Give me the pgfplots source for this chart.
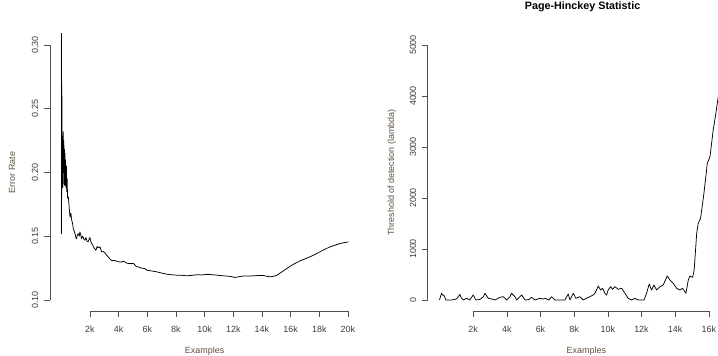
\documentclass[border=0pt]{standalone}
\usepackage{fontspec}
\setmainfont{Liberation Sans}
\usepackage{pgfplots}
\pgfplotsset{compat=1.18}
\definecolor{axgray}{RGB}{80,80,80}
\definecolor{labcol}{RGB}{95,80,65}
\definecolor{tickcol}{RGB}{60,60,60}
\pgfplotsset{rstyle/.style={
  scale only axis, height=277bp,
  axis line style={draw=none},
  tick align=outside, major tick length=6bp, tick pos=left,
  minor tick num=0,
  tick style={axgray, line width=0.6bp},
  tick label style={font=\fontsize{9}{10}\selectfont, text=tickcol},
  /pgf/number format/assume math mode=true,
  yticklabel style={rotate=90, anchor=base},
  xticklabel style={anchor=base},
  xticklabel shift=15bp,
  yticklabel shift=5.6bp,
  label style={font=\fontsize{9}{10}\selectfont, text=labcol},
  clip mode=individual,
  scaled ticks=false,
}}
\begin{document}
\begin{tikzpicture}
\useasboundingbox (0,0) rectangle (718bp,356bp);
% ---------------- left panel ----------------
\begin{axis}[rstyle,
  at={(49.8bp,45bp)}, anchor=south west,
  width=309.6bp,
  xmin=-800, xmax=20800, ymin=0.0914, ymax=0.3086,
  xtick={2000,4000,6000,8000,10000,12000,14000,16000,18000,20000},
  xticklabels={2k,4k,6k,8k,10k,12k,14k,16k,18k,20k},
  ytick={0.10,0.15,0.20,0.25,0.30},
  yticklabels={0.10,0.15,0.20,0.25,0.30},
  xlabel={Examples},
  xlabel style={at={(axis description cs:0.5,-0.1444)}, anchor=center},
  ylabel={Error Rate},
  ylabel style={at={(axis description cs:-0.1221,0.5)}, anchor=center},
]
\addplot[black, line width=0.75bp, line join=round] coordinates {
(0,0.42) (20,0.152) (40,0.27) (60,0.19) (80,0.222) (100,0.188) (120,0.226) (140,0.232)
(160,0.2) (180,0.225) (200,0.19) (220,0.218) (240,0.19) (260,0.215) (280,0.19) (300,0.21)
(330,0.188) (360,0.205) (380,0.185) (410,0.195) (440,0.18) (490,0.181) (550,0.173)
(610,0.165) (670,0.168) (730,0.1625) (790,0.16) (840,0.156) (900,0.154) (960,0.152)
(1020,0.149) (1070,0.148) (1120,0.151) (1190,0.152) (1250,0.150) (1300,0.1534)
(1360,0.151) (1420,0.148) (1480,0.150) (1540,0.149) (1600,0.147) (1650,0.147)
(1720,0.149) (1800,0.146) (1880,0.1456) (1950,0.148) (2000,0.149) (2060,0.146)
(2120,0.1443) (2200,0.143) (2280,0.141) (2350,0.140) (2420,0.139) (2500,0.142)
(2580,0.141) (2700,0.1417) (2820,0.1378) (2940,0.138) (3050,0.137) (3170,0.135)
(3280,0.1339) (3400,0.132) (3520,0.131) (3700,0.131) (3870,0.1305) (4000,0.130)
(4210,0.1297) (4330,0.1305) (4560,0.129) (4700,0.1286) (4910,0.1286) (5050,0.1286)
(5260,0.126) (5370,0.126) (5600,0.125) (5840,0.1247) (5960,0.1234) (6300,0.1228)
(6660,0.1221) (7000,0.1212) (7350,0.1203) (7700,0.1198) (8050,0.1195) (8400,0.1194)
(8740,0.119) (9100,0.1193) (9450,0.1198) (9800,0.1197) (10150,0.1201) (10500,0.1199)
(10840,0.1195) (11200,0.1191) (11540,0.1188) (11850,0.1184) (12120,0.1177)
(12400,0.1183) (12700,0.1188) (13050,0.1188) (13400,0.119) (13750,0.1192)
(14100,0.1193) (14350,0.1186) (14560,0.1182) (14800,0.1186) (15030,0.1193)
(15250,0.121) (15500,0.1229) (15800,0.1252) (16080,0.1273) (16380,0.1291)
(16660,0.1307) (17000,0.1323) (17360,0.1339) (17700,0.1358) (18050,0.1378)
(18400,0.1398) (18750,0.1417) (19100,0.143) (19450,0.1443) (19750,0.145) (20030,0.1456)
};
\draw[axgray, line width=0.6bp] (axis cs:-800,0.10) -- (axis cs:-800,0.30);
\draw[axgray, line width=0.6bp] (axis cs:2000,0.0914) -- (axis cs:20000,0.0914);
\end{axis}
% ---------------- right panel ----------------
\begin{axis}[rstyle,
  at={(427.7bp,45bp)}, anchor=south west,
  width=317.3bp,
  xmin=-700, xmax=18150, ymin=-216, ymax=5216,
  xtick={2000,4000,6000,8000,10000,12000,14000,16000},
  xticklabels={2k,4k,6k,8k,10k,12k,14k,16k},
  ytick={0,1000,2000,3000,4000,5000},
  yticklabels={0,1000,2000,3000,4000,5000},
  xlabel={Examples},
  xlabel style={at={(axis description cs:0.5,-0.1444)}, anchor=center},
  ylabel={Threshold of detection (lambda)},
  ylabel style={at={(axis description cs:-0.1135,0.5)}, anchor=center},
  title={Page-Hinckey Statistic},
  title style={at={(axis description cs:0.488,1)}, anchor=base, yshift=18.1bp,
    font=\bfseries\fontsize{10.8}{12}\selectfont, text=black},
]
\addplot[black, line width=0.75bp, line join=round] coordinates {
(0,0) (120,131) (200,90) (260,98) (380,0) (720,0) (1010,20) (1150,80) (1210,110)
(1300,40) (1410,0) (1610,33) (1800,0) (2000,98) (2160,0) (2400,10) (2600,60) (2700,131)
(2900,33) (3100,20) (3300,0) (3590,52) (3790,65) (3990,0) (4190,65) (4280,131)
(4480,65) (4580,0) (4880,98) (5080,0) (5300,5) (5470,52) (5670,0) (5970,33) (6120,20)
(6300,30) (6500,0) (6660,65) (6860,0) (7200,0) (7450,0) (7650,118) (7750,0) (7950,131)
(8100,33) (8340,65) (8540,0) (8700,30) (8940,65) (9130,98) (9230,131) (9330,196)
(9430,274) (9570,196) (9690,229) (9830,131) (9930,98) (10020,196) (10170,261)
(10280,209) (10420,261) (10620,209) (10820,229) (11020,131) (11210,33) (11410,0)
(11610,33) (11710,13) (11810,0) (12150,0) (12300,131) (12460,313) (12600,196)
(12740,294) (12900,196) (13100,261) (13290,294) (13530,470) (13690,392) (13890,326)
(14090,229) (14280,196) (14440,229) (14640,131) (14780,392) (14880,470) (15040,444)
(15130,588) (15280,1307) (15370,1503) (15510,1601) (15710,2091) (15910,2680)
(16070,2810) (16260,3333) (16420,3660) (16560,3987)
};
\draw[axgray, line width=0.6bp] (axis cs:-700,0) -- (axis cs:-700,5000);
\draw[axgray, line width=0.6bp] (axis cs:2000,-216) -- (axis cs:16000,-216);
\end{axis}
\end{tikzpicture}
\end{document}
